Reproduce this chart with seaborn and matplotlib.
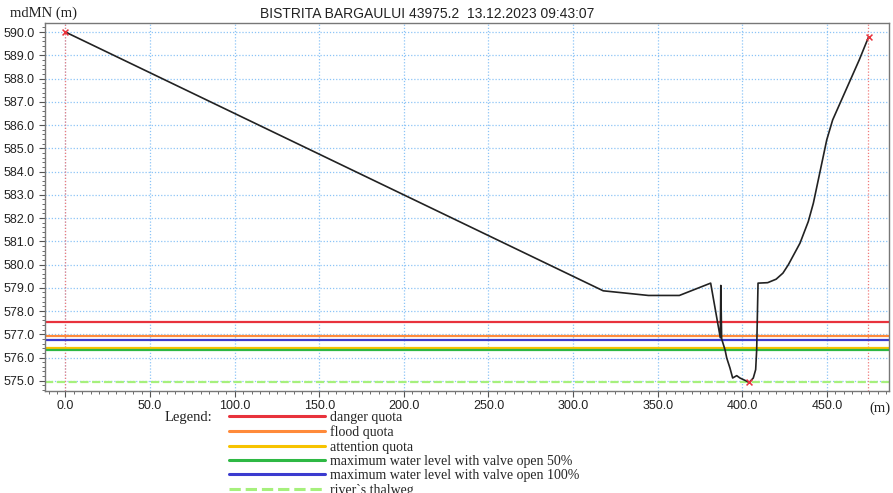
import numpy as np
import pandas as pd
import seaborn as sns
import matplotlib.pyplot as plt
from matplotlib.lines import Line2D
from matplotlib.ticker import MultipleLocator

# profilul albiei (distanta, cota)
dist = [0.0, 317.8, 344.5, 362.8, 381.3, 387.0, 387.3, 387.8, 389.8, 390.8,
        392.7, 394.3, 396.7, 398.6, 404.1, 406.5, 407.9, 408.5, 409.3, 415.0,
        420.0, 424.0, 427.2, 434.1, 439.0, 442.0, 449.9, 453.4, 469.1, 474.7]
elev = [590.0, 578.87, 578.67, 578.67, 579.2, 576.85, 579.1, 576.8, 576.33, 575.98,
        575.55, 575.12, 575.22, 575.12, 574.93, 575.12, 575.48, 576.33, 579.2, 579.22,
        579.37, 579.63, 579.99, 580.92, 581.85, 582.64, 585.36, 586.22, 588.8, 589.8]

# puncte marcate (maluri + talveg)
mark_x = [0.0, 474.7, 404.1]
mark_y = [590.0, 589.8, 574.93]
bank_x = [0.0, 474.5]

# cote de referinta
level_names = ["danger quota", "flood quota", "attention quota",
               "maximum water level with valve open 50%",
               "maximum water level with valve open 100%",
               "river`s thalweg"]
level_values = [577.52, 576.91, 576.41, 576.33, 576.75, 574.95]
level_colors = ["#e8323c", "#ff8a3a", "#f7c300", "#2eb844", "#3b3bcf", "#a6f07c"]

df = pd.DataFrame({"dist": dist, "elev": elev})

sns.set_style("ticks")
plt.rcParams["font.family"] = ["Liberation Sans", "DejaVu Sans"]

fig = plt.figure(figsize=(8.93, 4.93), dpi=100)
ax = fig.add_axes([45 / 893, 1 - 391 / 493, 844 / 893, 368 / 493])

ax.grid(True, which="major", color="#8cc4f7", linestyle=(0, (1, 1.5)), linewidth=0.9)
ax.set_axisbelow(True)

for bx in bank_x:
    ax.axvline(bx, color="#f07a7a", linestyle=(0, (1, 1.5)), linewidth=0.9, zorder=1)

handles = []
for name, val, col in zip(level_names, level_values, level_colors):
    ls = "--" if "thalweg" in name else "-"
    ax.axhline(val, color=col, linewidth=1.6, linestyle=ls, zorder=2)
    handles.append(Line2D([], [], color=col, linewidth=2.2, linestyle=ls, label=name))

sns.lineplot(data=df, x="dist", y="elev", sort=False, estimator=None,
             color="#222222", linewidth=1.2, ax=ax, zorder=3)
ax.scatter(mark_x, mark_y, marker="x", color="#e8323c", s=18, linewidths=1.1, zorder=4)

ax.set_xlim(-12.1, 486.7)
ax.set_ylim(574.56, 590.39)
ax.xaxis.set_major_locator(MultipleLocator(50))
ax.xaxis.set_minor_locator(MultipleLocator(5))
ax.yaxis.set_major_locator(MultipleLocator(1))
ax.yaxis.set_minor_locator(MultipleLocator(0.2))
ax.set_xticks(np.arange(0, 451, 50))
ax.set_xticklabels([f"{v:.1f}" for v in np.arange(0, 451, 50)])
ax.set_yticks(np.arange(575, 590.5, 1))
ax.set_yticklabels([f"{v:.1f}" for v in np.arange(575, 590.5, 1)])
ax.tick_params(which="major", length=4, width=0.8, color="#555555", labelsize=9, labelcolor="#222222")
ax.tick_params(axis="x", which="major", pad=2.5)
ax.tick_params(which="minor", length=2, width=0.6, color="#555555")
for s in ax.spines.values():
    s.set_color("#777777")
    s.set_linewidth(1.0)
ax.set_xlabel("")
ax.set_ylabel("")

fig.text(10 / 893, 1 - 13 / 493, "mdMN (m)", family="Liberation Serif",
         fontsize=10.5, va="center", ha="left", color="#222222")
fig.text(890 / 893, 1 - 408 / 493, "(m)", family="Liberation Serif",
         fontsize=10.5, va="center", ha="right", color="#222222")
fig.text(427 / 893, 1 - 14 / 493, "BISTRITA BARGAULUI 43975.2  13.12.2023 09:43:07",
         fontsize=10, va="center", ha="center", color="#222222")
fig.text(165 / 893, 1 - 418 / 493, "Legend:", family="Liberation Serif",
         fontsize=10.5, va="center", ha="left", color="#222222")

fig.legend(handles=handles, loc="upper left", bbox_to_anchor=(229 / 893, 1 - 411 / 493),
           frameon=False, prop={"family": "Liberation Serif", "size": 10},
           handlelength=6.9, handletextpad=0.35, labelspacing=0.1, borderpad=0,
           borderaxespad=0)

fig.savefig("out.png", dpi=100)
